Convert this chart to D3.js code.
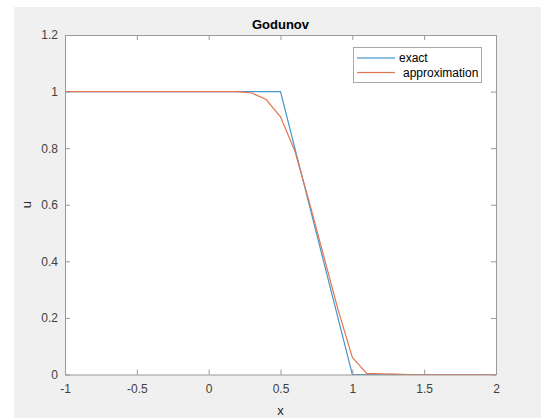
<!DOCTYPE html>
<html lang='en'>
	<head>
		<meta charset='utf-8'>
		<title>Godunov</title>
		<script type='text/javascript' src='https://d3js.org/d3.v7.min.js'></script>
		<style type='text/css'>
			body { margin: 0; background: white; }
			text { font-family: 'Liberation Sans', Arial, sans-serif; }
		</style>
	</head>
	<body>
		<script type='text/javascript'>
			// exact solution
			var exactX = [-1, 0.5, 1, 2];
			var exactU = [1, 1, 0, 0];

			// Godunov approximation
			var approxX = [-1, -0.9, -0.8, -0.7, -0.6, -0.5, -0.4, -0.3, -0.2, -0.1, 0, 0.1, 0.2, 0.3, 0.4, 0.5, 0.6, 0.7, 0.8, 0.9, 1, 1.1, 1.2, 1.3, 1.4, 1.5, 1.6, 1.7, 1.8, 1.9, 2];
			var approxU = [1, 1, 1, 1, 1, 1, 1, 1, 1, 1, 1, 1, 1, 0.995, 0.972, 0.911, 0.79, 0.61, 0.42, 0.23, 0.06, 0.004, 0.002, 0.001, 0, 0, 0, 0, 0, 0, 0];

			var xTicks = [-1, -0.5, 0, 0.5, 1, 1.5, 2];
			var yTicks = [0, 0.2, 0.4, 0.6, 0.8, 1, 1.2];
			var seriesNames = ['exact', 'approximation'];
			var seriesColors = ['#4596cf', '#e2754f'];

			var w = 547;
			var h = 418;
			// plot box (note: 'top' is reserved on window, so use pTop etc.)
			var pLeft = 65, pRight = 496, pTop = 35, pBottom = 374.5;
			var tickLen = 5;

			var svg = d3.select('body')
						.append('svg')
						.attr('width', w)
						.attr('height', h);

			// figure background
			svg.append('rect')
				.attr('x', 14).attr('y', 7)
				.attr('width', 527).attr('height', h - 7)
				.attr('fill', '#f0f0f0');

			var xScale = d3.scaleLinear().domain([-1, 2]).range([pLeft, pRight]);
			var yScale = d3.scaleLinear().domain([0, 1.2]).range([pBottom, pTop]);

			// plot area
			svg.append('rect')
				.attr('x', pLeft).attr('y', pTop)
				.attr('width', pRight - pLeft).attr('height', pBottom - pTop)
				.attr('fill', 'white');

			var line = d3.line()
						.x(function(d) { return xScale(d[0]); })
						.y(function(d) { return yScale(d[1]); });

			var exactData = exactX.map(function(x, i) { return [x, exactU[i]]; });
			var approxData = approxX.map(function(x, i) { return [x, approxU[i]]; });

			[exactData, approxData].forEach(function(data, i) {
				svg.append('path')
					.datum(data)
					.attr('d', line)
					.attr('fill', 'none')
					.attr('stroke', seriesColors[i])
					.attr('stroke-width', 1.2);
			});

			// axes, ticks inward on all four sides
			var axisColor = '#9a9a9a';
			var labelColor = '#404040';

			var xb = d3.axisBottom(xScale).tickValues(xTicks).tickSizeInner(-tickLen).tickSizeOuter(0).tickPadding(10)
						.tickFormat(function(d) { return String(d); });
			var xt = d3.axisTop(xScale).tickValues(xTicks).tickSizeInner(-tickLen).tickSizeOuter(0).tickFormat('');
			var yl = d3.axisLeft(yScale).tickValues(yTicks).tickSizeInner(-tickLen).tickSizeOuter(0).tickPadding(7)
						.tickFormat(function(d) { return String(d); });
			var yr = d3.axisRight(yScale).tickValues(yTicks).tickSizeInner(-tickLen).tickSizeOuter(0).tickFormat('');

			svg.append('g').attr('transform', 'translate(0,' + pBottom + ')').call(xb);
			svg.append('g').attr('transform', 'translate(0,' + pTop + ')').call(xt);
			svg.append('g').attr('transform', 'translate(' + pLeft + ',0)').call(yl);
			svg.append('g').attr('transform', 'translate(' + pRight + ',0)').call(yr);

			svg.selectAll('.domain, .tick line').attr('stroke', axisColor);
			svg.selectAll('.tick text')
				.attr('fill', labelColor)
				.style('font-size', '12px')
				.style('font-family', "'Liberation Sans', Arial, sans-serif");

			// title and axis labels
			svg.append('text')
				.attr('x', (pLeft + pRight) / 2).attr('y', 29)
				.attr('text-anchor', 'middle')
				.attr('font-weight', 'bold')
				.attr('font-size', '13px')
				.attr('fill', '#000')
				.text('Godunov');

			svg.append('text')
				.attr('x', (pLeft + pRight) / 2).attr('y', 415)
				.attr('text-anchor', 'middle')
				.attr('font-size', '13px')
				.attr('fill', '#262626')
				.text('x');

			svg.append('text')
				.attr('transform', 'translate(31,' + yScale(0.6) + ') rotate(-90)')
				.attr('text-anchor', 'middle')
				.attr('font-size', '13px')
				.attr('fill', '#262626')
				.text('u');

			// legend
			var legend = svg.append('g');
			legend.append('rect')
				.attr('x', 353.5).attr('y', 47.5)
				.attr('width', 128).attr('height', 35)
				.attr('fill', 'white')
				.attr('stroke', '#a8a8a8');

			seriesNames.forEach(function(name, i) {
				var ly = 58 + i * 14.5;
				legend.append('rect')
					.attr('x', 357).attr('y', ly - 0.6)
					.attr('width', 38).attr('height', 1.2)
					.attr('fill', seriesColors[i]);
				legend.append('text')
					.attr('x', i === 0 ? 399 : 403).attr('y', ly + 4)
					.attr('font-size', '12px')
					.attr('fill', '#000')
					.text(name);
			});
		</script>
	</body>
</html>
